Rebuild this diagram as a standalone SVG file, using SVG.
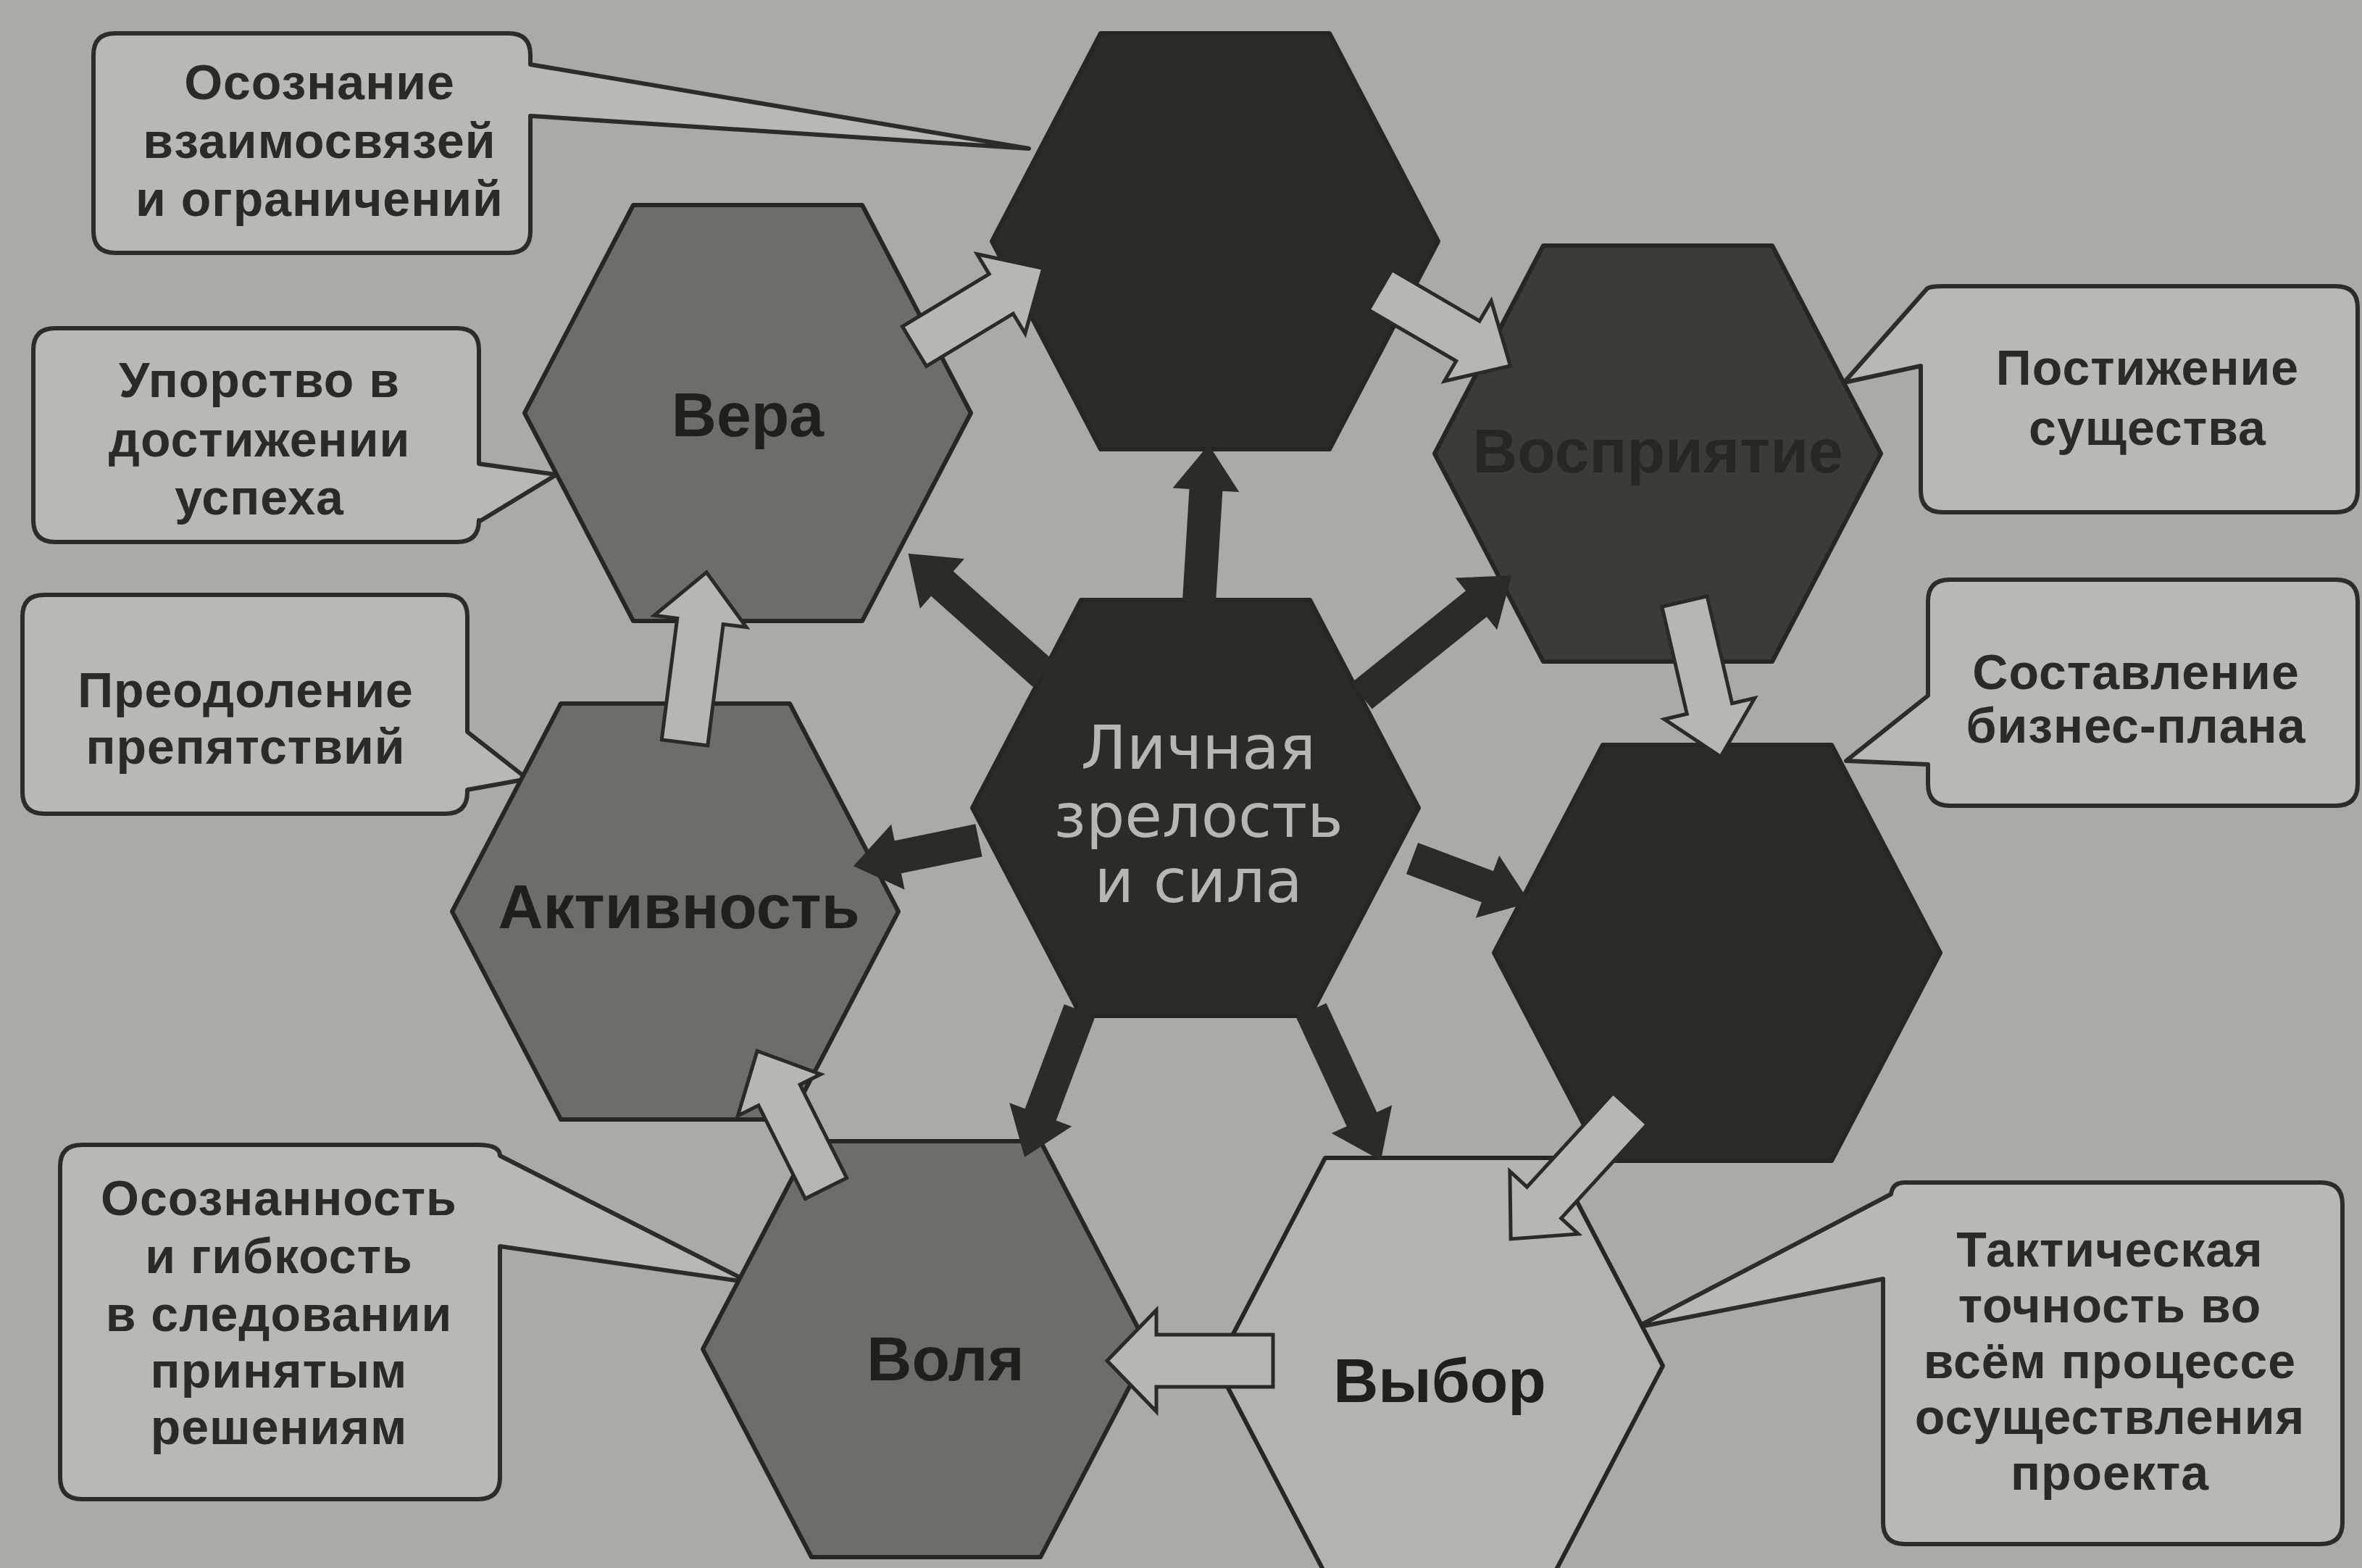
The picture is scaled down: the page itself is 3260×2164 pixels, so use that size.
<svg xmlns="http://www.w3.org/2000/svg" xmlns:xlink="http://www.w3.org/1999/xlink" width="3260" height="2164" viewBox="0 0 3260 2164">
<defs>
<polygon id="hex" points="-308,0 -158,-287 158,-287 308,0 158,287 -158,287"/>
<style>
.bg{fill:#abaaa6}
.hx{stroke:#262624;stroke-width:6;stroke-linejoin:round}
.dark{fill:#2b2b28}
.dark2{fill:#3b3b37}
.mid{fill:#6d6d69}
.light{fill:#b3b3af}
.co{fill:#b8b8b4;stroke:#2c2c2a;stroke-width:6;stroke-linejoin:round}
.ct{font-family:"Liberation Sans",Arial,sans-serif;font-weight:bold;font-size:68px;fill:#2a2a28;text-anchor:middle;letter-spacing:1px}
.hl{font-family:"Liberation Sans",Arial,sans-serif;font-weight:bold;font-size:86px;fill:#1f1f1d;text-anchor:middle}
.cen{font-family:"DejaVu Sans",sans-serif;font-size:84px;fill:#b6b6b2;text-anchor:middle}
.da{fill:#2b2b28;stroke:#2b2b28;stroke-width:2}
.la{fill:#b6b6b2;stroke:#2a2a28;stroke-width:5;stroke-linejoin:miter}
</style>
</defs>
<rect class="bg" x="0" y="0" width="3260" height="2164"/>

<g id="callout-osoznanie">
<path class="co" d="M159,46 H702 Q732,46 732,76 V89 L1420,205 L732,160 V319 Q732,349 702,349 H159 Q129,349 129,319 V76 Q129,46 159,46 Z"/>
<text class="ct" x="441" y="137">Осознание</text>
<text class="ct" x="441" y="218">взаимосвязей</text>
<text class="ct" x="441" y="298">и ограничений</text>
</g>
<g id="callout-uporstvo">
<path class="co" d="M76,453 H631 Q661,453 661,483 V640 L768,655 L661,720 V718 Q661,748 631,748 H76 Q46,748 46,718 V483 Q46,453 76,453 Z"/>
<text class="ct" x="358" y="548">Упорство в</text>
<text class="ct" x="358" y="630">достижении</text>
<text class="ct" x="358" y="710">успеха</text>
</g>
<g id="callout-preodolenie">
<path class="co" d="M61,821 H615 Q645,821 645,851 V1010 L728,1075 L645,1090 V1093 Q645,1123 615,1123 H61 Q31,1123 31,1093 V851 Q31,821 61,821 Z"/>
<text class="ct" x="339" y="976">Преодоление</text>
<text class="ct" x="339" y="1054">препятствий</text>
</g>
<g id="callout-osoznannost">
<path class="co" d="M113,1580 H660 Q690,1580 690,1595 L1035,1770 L690,1720 V2039 Q690,2069 660,2069 H113 Q83,2069 83,2039 V1610 Q83,1580 113,1580 Z"/>
<text class="ct" x="385" y="1677">Осознанность</text>
<text class="ct" x="385" y="1757">и гибкость</text>
<text class="ct" x="385" y="1837">в следовании</text>
<text class="ct" x="385" y="1915">принятым</text>
<text class="ct" x="385" y="1993">решениям</text>
</g>
<g id="callout-postizhenie">
<path class="co" d="M2681,395 H3224 Q3254,395 3254,425 V677 Q3254,707 3224,707 H2681 Q2651,707 2651,677 V505 L2545,528 L2660,398 Q2665,395 2681,395 Z"/>
<text class="ct" x="2964" y="531">Постижение</text>
<text class="ct" x="2964" y="614">существа</text>
</g>
<g id="callout-sostavlenie">
<path class="co" d="M2691,800 H3224 Q3254,800 3254,830 V1082 Q3254,1112 3224,1112 H2691 Q2661,1112 2661,1082 V1055 L2548,1050 L2661,960 V830 Q2661,800 2691,800 Z"/>
<text class="ct" x="2948" y="951">Составление</text>
<text class="ct" x="2948" y="1025">бизнес-плана</text>
</g>
<g id="callout-taktika">
<path class="co" d="M2629,1632 H3203 Q3233,1632 3233,1662 V2101 Q3233,2131 3203,2131 H2629 Q2599,2131 2599,2101 V1765 L2258,1832 L2610,1648 Q2612,1632 2629,1632 Z"/>
<text class="ct" x="2912" y="1748">Тактическая</text>
<text class="ct" x="2912" y="1825">точность во</text>
<text class="ct" x="2912" y="1902">всём процессе</text>
<text class="ct" x="2912" y="1979">осуществления</text>
<text class="ct" x="2912" y="2056">проекта</text>
</g>

<g id="node-top" transform="translate(1677,333)"><use xlink:href="#hex" class="hx dark"/></g>
<g id="node-vera" transform="translate(1032,570)"><use xlink:href="#hex" class="hx mid"/><text class="hl" x="0" y="32">Вера</text></g>
<g id="node-vospriyatie" transform="translate(2288,626)"><use xlink:href="#hex" class="hx dark2"/><text class="hl" x="0" y="26" style="fill:#272724">Восприятие</text></g>
<g id="node-lowright" transform="translate(2370,1315)"><use xlink:href="#hex" class="hx dark"/></g>
<g id="node-vybor" transform="translate(1987,1885)"><use xlink:href="#hex" class="hx light"/><text class="hl" x="0" y="50">Выбор</text></g>
<g id="node-volya" transform="translate(1278,1862)"><use xlink:href="#hex" class="hx mid"/><text class="hl" x="27" y="43">Воля</text></g>
<g id="node-aktivnost" transform="translate(932,1258)"><use xlink:href="#hex" class="hx mid"/><text class="hl" x="5" y="23">Активность</text></g>
<g id="node-center" transform="translate(1650,1115)"><use xlink:href="#hex" class="hx dark"/>
<text class="cen" x="4" y="-54">Личная</text>
<text class="cen" x="4" y="40">зрелость</text>
<text class="cen" x="4" y="130">и сила</text>
</g>

<g id="connectors">
<g id="dark-arrows">
<path class="da" transform="translate(1655,830) rotate(-86.5)" d="M0,-22 L155,-22 L155,-44 L215,0 L155,44 L155,22 L0,22 Z"/>
<path class="da" transform="translate(1440,930) rotate(-138.3)" d="M0,-22 L188,-22 L188,-44 L248,0 L188,44 L188,22 L0,22 Z"/>
<path class="da" transform="translate(1880,960) rotate(-38.8)" d="M0,-22 L203,-22 L203,-44 L263,0 L203,44 L203,22 L0,22 Z"/>
<path class="da" transform="translate(1350,1160) rotate(168.4)" d="M0,-22 L114,-22 L114,-44 L174,0 L114,44 L114,22 L0,22 Z"/>
<path class="da" transform="translate(1950,1185) rotate(20.6)" d="M0,-22 L111,-22 L111,-44 L171,0 L111,44 L111,22 L0,22 Z"/>
<path class="da" transform="translate(1490,1395) rotate(110.6)" d="M0,-22 L154,-22 L154,-44 L214,0 L154,44 L154,22 L0,22 Z"/>
<path class="da" transform="translate(1810,1395) rotate(65.1)" d="M0,-22 L166,-22 L166,-44 L226,0 L166,44 L166,22 L0,22 Z"/>
</g>
<g id="light-arrows">
<path class="la" transform="translate(1262,478) rotate(-31.2)" d="M0,-32 L140,-32 L140,-64 L208,0 L140,64 L140,32 L0,32 Z"/>
<path class="la" transform="translate(1905,400) rotate(30.3)" d="M0,-32 L140,-32 L140,-64 L208,0 L140,64 L140,32 L0,32 Z"/>
<path class="la" transform="translate(2325,830) rotate(76.9)" d="M0,-32 L152,-32 L152,-64 L220,0 L152,64 L152,32 L0,32 Z"/>
<path class="la" transform="translate(2250,1530) rotate(132.5)" d="M0,-32 L176,-32 L176,-64 L244,0 L176,64 L176,32 L0,32 Z"/>
<path class="la" transform="translate(1757,1878) rotate(180)" d="M0,-36 L161,-36 L161,-70 L229,0 L161,70 L161,36 L0,36 Z"/>
<path class="la" transform="translate(1140,1640) rotate(-116.6)" d="M0,-32 L144,-32 L144,-64 L212,0 L144,64 L144,32 L0,32 Z"/>
<path class="la" transform="translate(945,1025) rotate(-82.7)" d="M0,-32 L169,-32 L169,-64 L237,0 L169,64 L169,32 L0,32 Z"/>
</g>
</g>
</svg>
